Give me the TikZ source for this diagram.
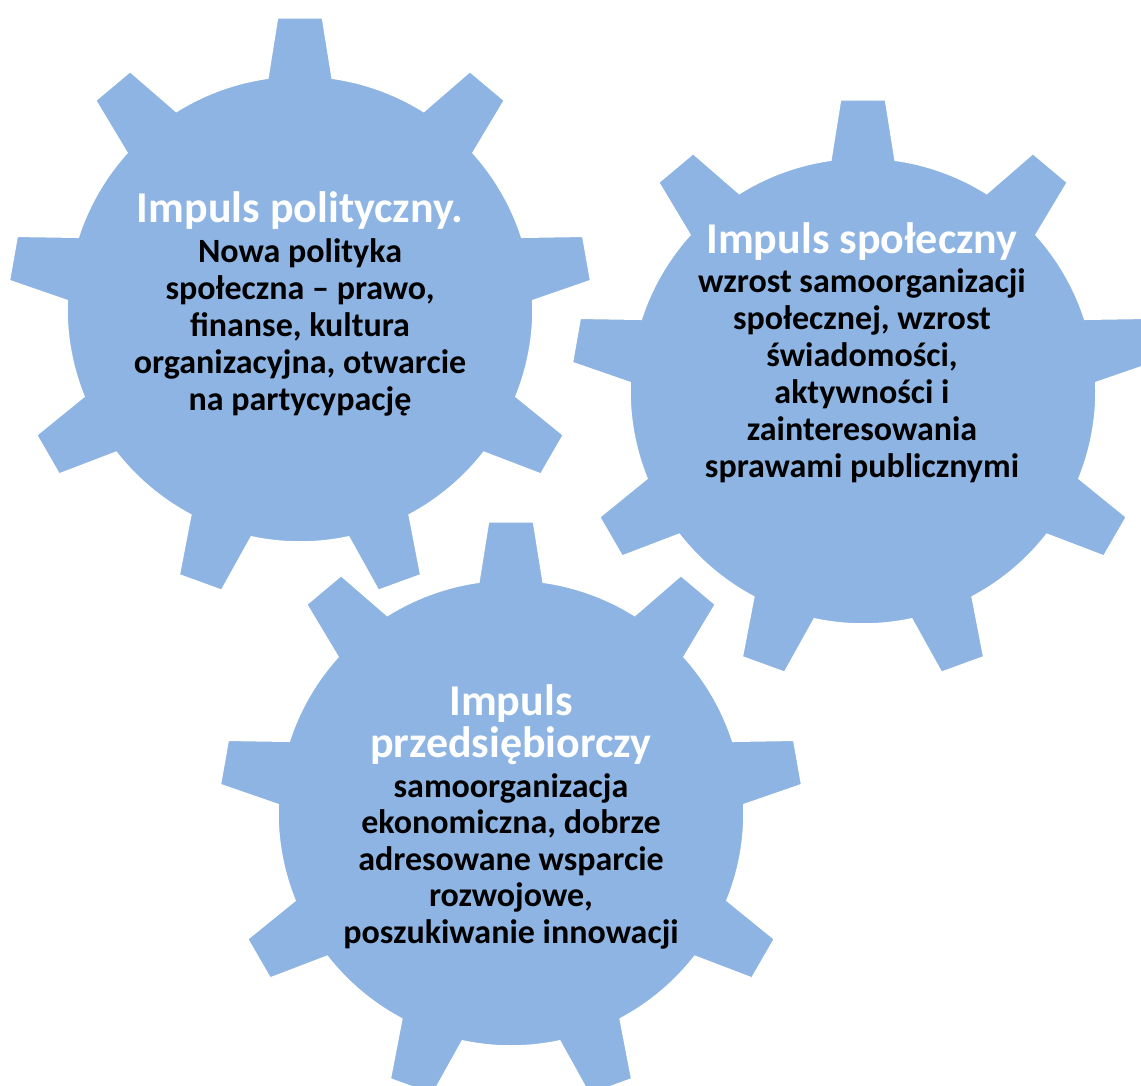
\documentclass[tikz,border=0pt]{standalone}
\usepackage{fontspec}
\setmainfont{Carlito}
\definecolor{gearblue}{HTML}{8DB4E2}
\tikzset{
  gearfill/.style={fill=gearblue, draw=white, line width=1.5pt},
  ttl/.style={font=\fontsize{44}{50}\selectfont\bfseries, text=white, anchor=base, inner sep=0pt},
  bdy/.style={font=\fontsize{34}{40}\selectfont\bfseries, text=black, anchor=base, inner sep=0pt},
}
% gear with 9 teeth: inner radius 233pt, outer radius 292pt
\newcommand{\drawgear}[2]{%
  \begin{scope}[shift={(#1,-#2)}]
    \path[gearfill] (82.07:233pt) \foreach \t in {90,130,...,410} {
      -- ({\t-4.42}:292pt) -- ({\t+4.42}:292pt) -- ({\t+7.93}:233pt)
      arc[start angle=\t+7.93, end angle=\t+32.07, radius=233pt]
    } -- cycle;
  \end{scope}}
\begin{document}
\begin{tikzpicture}[x=1pt,y=1pt]
\useasboundingbox (0,0) rectangle (1141,-1086);
\clip (0,0) rectangle (1141,-1086);
\fill[white] (0,0) rectangle (1141,-1086);
\drawgear{300}{309}
\drawgear{863}{391}
\drawgear{511}{813}
% gear 1
\node[ttl] (g1t) at (300,-223) {Impuls polityczny.};
\node[bdy] (g1a) at (300,-262) {Nowa polityka};
\node[bdy] (g1b) at (300,-299) {społeczna – prawo,};
\node[bdy] (g1c) at (300,-336) {finanse, kultura};
\node[bdy] (g1d) at (300,-373) {organizacyjna, otwarcie};
\node[bdy] (g1e) at (300,-410) {na partycypację};
% gear 2
\node[ttl] (g2t) at (862,-254) {Impuls społeczny};
\node[bdy] (g2a) at (862,-292) {wzrost samoorganizacji};
\node[bdy] (g2b) at (862,-329) {społecznej, wzrost};
\node[bdy] (g2c) at (862,-366) {świadomości,};
\node[bdy] (g2d) at (862,-403) {aktywności i};
\node[bdy] (g2e) at (862,-440) {zainteresowania};
\node[bdy] (g2f) at (862,-477) {sprawami publicznymi};
% gear 3
\node[ttl] (g3t) at (511,-715) {Impuls};
\node[ttl] (g3u) at (511,-757) {przedsiębiorczy};
\node[bdy] (g3a) at (511,-797) {samoorganizacja};
\node[bdy] (g3b) at (511,-833.5) {ekonomiczna, dobrze};
\node[bdy] (g3c) at (511,-870) {adresowane wsparcie};
\node[bdy] (g3d) at (511,-906.5) {rozwojowe,};
\node[bdy] (g3e) at (511,-943) {poszukiwanie innowacji};
\end{tikzpicture}
\end{document}
